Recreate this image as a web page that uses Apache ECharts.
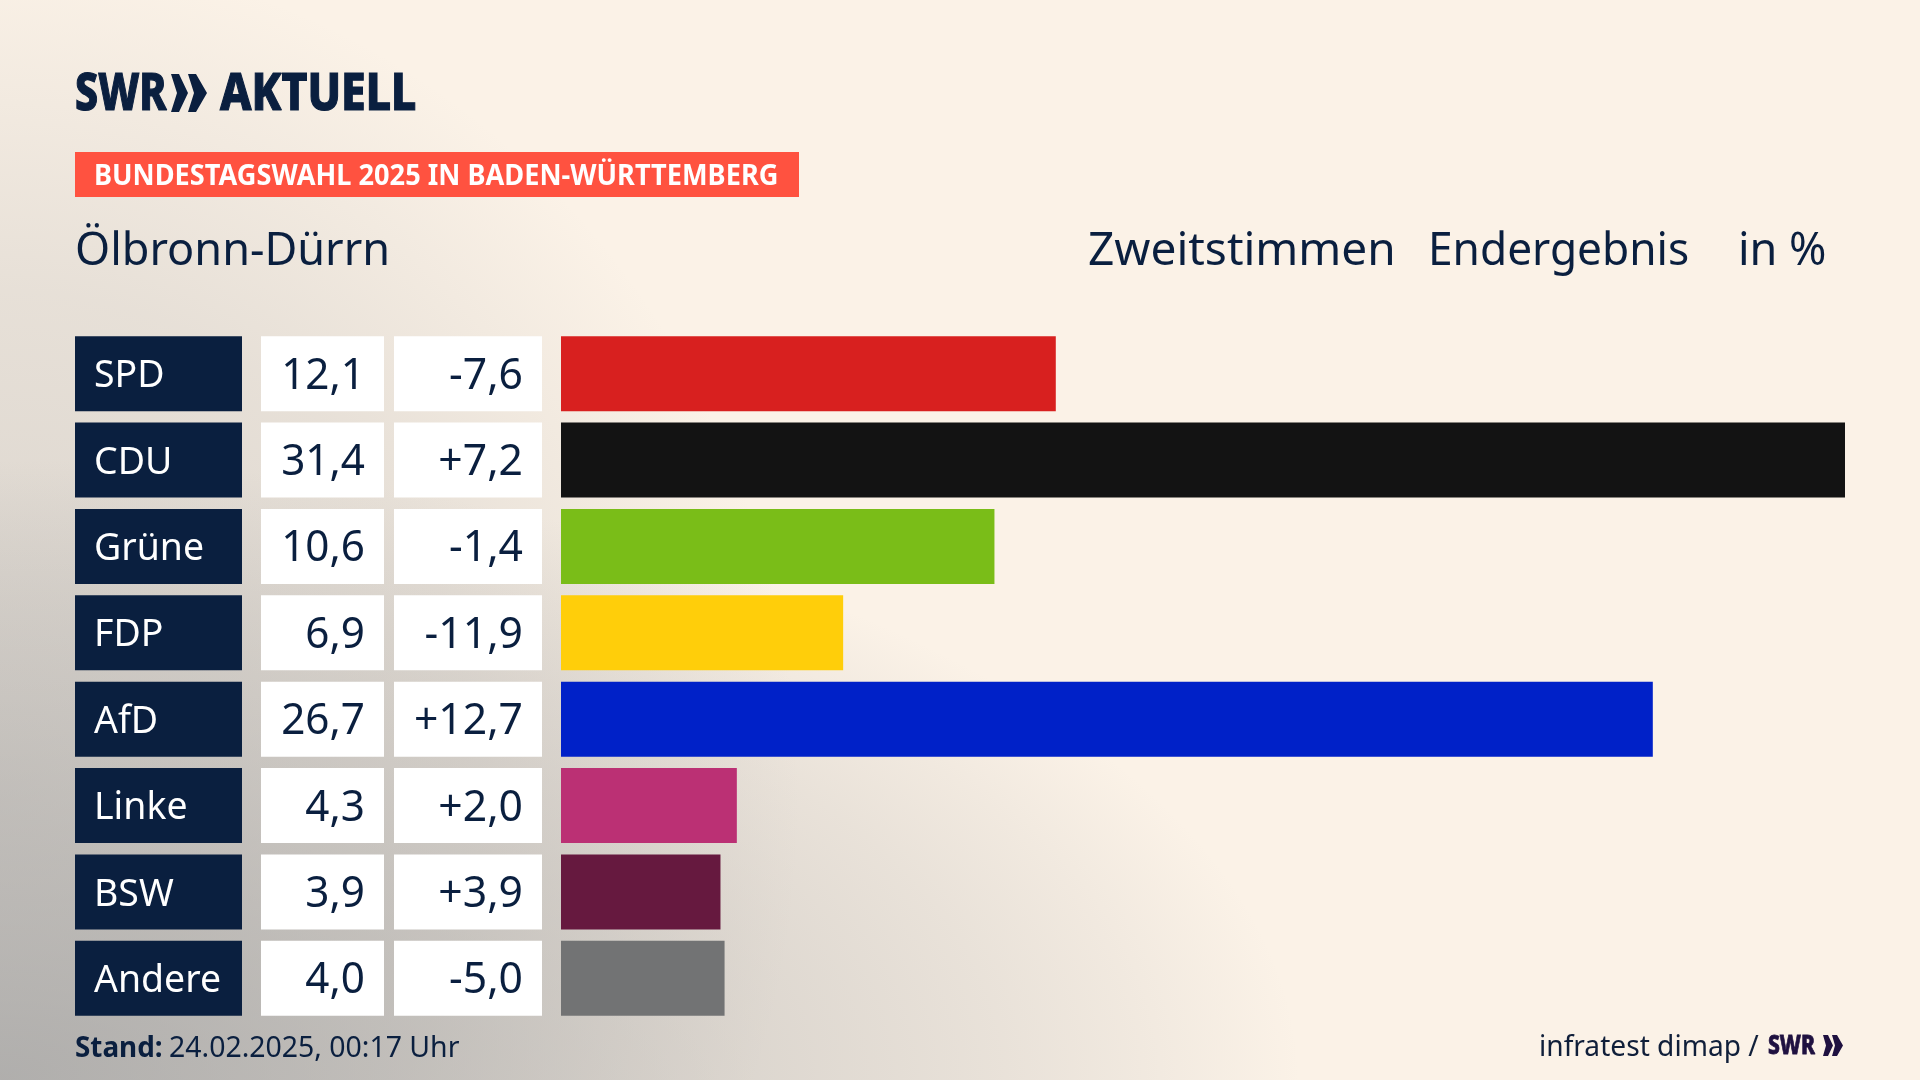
<!DOCTYPE html>
<html lang="de">
<head>
<meta charset="utf-8">
<title>Ölbronn-Dürrn</title>
<script src="https://cdn.jsdelivr.net/npm/echarts@6/dist/echarts.min.js"></script>
<style>
html,body{margin:0;padding:0;width:1920px;height:1080px;overflow:hidden}
body{background:
 radial-gradient(ellipse 1300px 620px at 0px 1080px,rgba(160,160,160,.75) 0%,rgba(160,160,160,.44) 43%,rgba(160,160,160,.31) 61%,rgba(160,160,160,.2) 77%,rgba(160,160,160,.11) 88%,rgba(160,160,160,0) 100%),
 radial-gradient(ellipse 800px 850px at 0px 800px,rgba(160,160,160,.38) 0%,rgba(160,160,160,.31) 30%,rgba(160,160,160,.22) 60%,rgba(160,160,160,.11) 80%,rgba(160,160,160,0) 100%),
 #fbf2e7}
#main{width:1920px;height:1080px}
</style>
</head>
<body>
<div id="main"></div>
<script>
var parties = ['SPD','CDU','Grüne','FDP','AfD','Linke','BSW','Andere'];
var shares = [12.1,31.4,10.6,6.9,26.7,4.3,3.9,4.0];
var changes = [-7.6,7.2,-1.4,-11.9,12.7,2.0,3.9,-5.0];
var partyColors = ['#d8201f','#131313','#7abd18','#ffce0a','#0021c8','#bb3074','#66193f','#727374'];

var NAVY = '#0a1f3f';
var FONT = '"Noto Sans"';

function fmt(v){ return v.toFixed(1).replace('.',','); }
function fmtDiff(v){ return (v>0?'+':'')+fmt(v); }

// text element, y = middle of the line
function txt(s,x,y,size,color,opt){
    opt = opt || {};
    var el = {
        type:'text', x:x, y:y, scaleX:opt.sx||1, silent:true,
        style:{
            text:s, fill:color,
            font:(opt.weight||'400')+' '+size+'px '+FONT,
            textAlign:opt.align||'left', textVerticalAlign:'middle'
        }
    };
    if(opt.stroke){
        el.style.stroke = color;
        el.style.lineWidth = opt.stroke;
    }
    return el;
}
// logo arrow: t = flat top width, n = notch depth
function chevron(x,y,w,h,t,n,color){
    return {type:'polygon',silent:true,shape:{points:[[x,y],[x+t,y],[x+w,y+h/2],[x+t,y+h],[x,y+h],[x+n,y+h/2]]},style:{fill:color}};
}

// table cells left of the bars
function renderRow(params,api){
    var i = api.value(1);
    var yc = api.coord([0,i])[1];
    var h = 75;
    var top = yc-h/2;
    return {
        type:'group',
        children:[
            {type:'rect',shape:{x:75,y:top,width:167,height:h},style:{fill:NAVY}},
            {type:'rect',shape:{x:261,y:top,width:123,height:h},style:{fill:'#fff'}},
            {type:'rect',shape:{x:394,y:top,width:148,height:h},style:{fill:'#fff'}},
            txt(parties[i],94,yc+2.5,39,'#fff',{sx:0.96}),
            txt(fmt(shares[i]),365,yc+2.5,44,NAVY,{align:'right',sx:0.96}),
            txt(fmtDiff(changes[i]),523,yc+2.5,44,NAVY,{align:'right',sx:0.97})
        ]
    };
}

var chart = echarts.init(document.getElementById('main'));
chart.setOption({
    animation:false,
    backgroundColor:'transparent',
    grid:{left:561,right:75,top:330.5,bottom:58.5},
    xAxis:{type:'value',min:0,max:31.4,show:false},
    yAxis:{type:'category',data:parties,inverse:true,show:false},
    series:[
        {
            type:'bar',
            barWidth:75,
            data:shares.map(function(v,i){ return {value:v,itemStyle:{color:partyColors[i]}}; })
        },
        {
            type:'custom',
            renderItem:renderRow,
            encode:{x:0,y:1},
            data:parties.map(function(p,i){ return [0,i]; })
        }
    ],
    graphic:{elements:[
        txt('SWR',75,95,52,NAVY,{weight:'800',sx:0.79,stroke:1.2}),
        chevron(171,74,17,38,8,6,NAVY),
        chevron(188,74,19,38,8,6,NAVY),
        txt('AKTUELL',220,95,52,NAVY,{weight:'800',sx:0.855,stroke:1.2}),
        {type:'rect',silent:true,shape:{x:75,y:152,width:724,height:45},style:{fill:'#ff5240'}},
        txt('BUNDESTAGSWAHL 2025 IN BADEN-WÜRTTEMBERG',94,177,29,'#fff',{weight:'700',sx:0.937}),
        txt('Ölbronn-Dürrn',75,252,45,NAVY,{sx:1}),
        txt('Zweitstimmen',1088,252,45,NAVY,{sx:1.022}),
        txt('Endergebnis',1428,252,45,NAVY,{sx:0.983}),
        txt('in %',1738,252,45,NAVY,{sx:1}),
        txt('Stand:',75,1049,29,NAVY,{weight:'700',sx:0.96}),
        txt('24.02.2025, 00:17 Uhr',169,1049,29,NAVY,{sx:0.98}),
        txt('infratest dimap /',1539,1048,29,'#101f3a',{sx:0.97}),
        txt('SWR',1768,1046,27,'#1f1140',{weight:'800',sx:0.78,stroke:0.8}),
        chevron(1823,1035,10,21,5,3,'#1f1140'),
        chevron(1832,1035,11,21,5,3,'#1f1140')
    ]}
});
window.addEventListener('resize',function(){
    chart.resize();
});
</script>
</body>
</html>
